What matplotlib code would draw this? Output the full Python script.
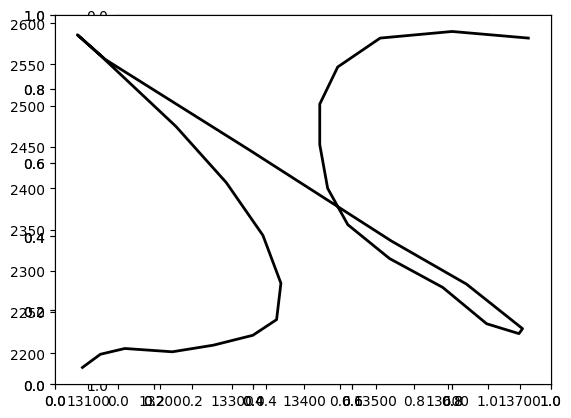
import matplotlib
matplotlib.use('Agg')
import matplotlib.pyplot as plt

# track coordinates
x_vals = [13092, 13117, 13151, 13217, 13274, 13329, 13362, 13368, 13343, 13292,
          13222, 13117, 13085, 13124, 13325, 13522, 13626, 13704, 13699, 13654,
          13593, 13519, 13461, 13433, 13422, 13422, 13447, 13506, 13606, 13712]
y_vals = [2183, 2199, 2206, 2202, 2210, 2222, 2241, 2285, 2343, 2407,
          2475, 2561, 2586, 2556, 2446, 2336, 2284, 2230, 2224, 2236,
          2280, 2315, 2356, 2400, 2453, 2502, 2547, 2582, 2590, 2582]

rect = [0.125, 0.11, 0.775, 0.77]

fig = plt.figure(figsize=(6.4, 4.8), dpi=100)

# two empty axes stacked on top of each other
fig.add_axes(rect)
fig.add_axes(rect)

# square axes with flipped y, mostly hidden behind the data axes
sq = fig.add_axes(rect)
sq.set_xlim(0, 1)
sq.set_ylim(1, 0)
sq.set_aspect('equal')

ax = fig.add_axes(rect)
ax.plot(x_vals, y_vals, color='black', linewidth=2)

plt.savefig('out.png', dpi=100, bbox_inches='tight')
plt.close()
